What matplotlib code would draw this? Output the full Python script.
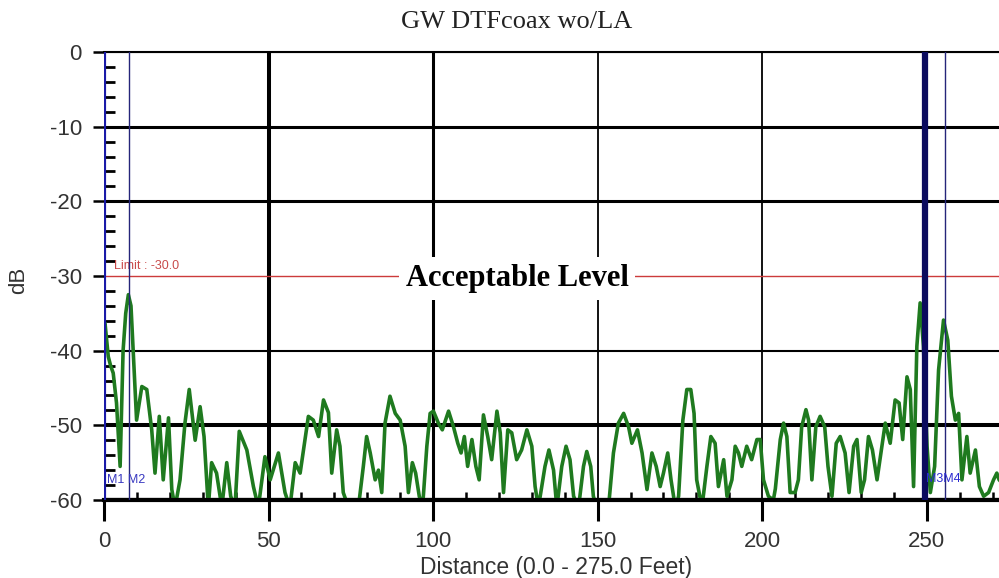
import numpy as np
import matplotlib
matplotlib.use('Agg')
import matplotlib.pyplot as plt

plt.rcParams['axes.unicode_minus'] = False

# trace (feet, dB); -61 means the trace drops below the floor
dist = [0.0, 0.3, 1.3, 2.0, 2.8, 3.8, 4.9, 5.8, 6.6, 7.4, 8.2, 8.9, 9.9, 11.5, 13.0,
        14.5, 15.5, 16.8, 18.0, 19.6, 20.6, 21.6, 23.1, 24.6, 25.9, 27.7, 29.2, 30.4,
        31.7, 32.7, 34.2, 35.8, 37.3, 38.5, 39.8, 41.1, 43.4, 45.4, 46.9, 48.9, 50.5,
        53.0, 55.0, 56.5, 58.1, 59.6, 62.1, 63.6, 65.2, 66.7, 68.2, 69.2, 70.7, 71.7,
        72.7, 74.3, 77.3, 78.8, 79.8, 80.9, 82.4, 83.4, 84.4, 85.4, 86.9, 88.5, 90.0,
        91.5, 92.5, 93.7, 94.7, 95.8, 96.8, 98.1, 99.1, 100.1, 101.6, 102.8, 104.7,
        106.2, 107.5, 108.5, 109.5, 110.5, 111.8, 113.0, 114.0, 115.3, 116.6, 117.8,
        119.4, 120.4, 121.4, 122.7, 123.9, 125.4, 126.9, 128.5, 130.0, 131.0, 132.0,
        134.0, 135.2, 136.6, 137.6, 139.1, 140.4, 141.6, 142.7, 144.2, 145.7, 146.7,
        147.9, 148.7, 149.7, 153.3, 154.8, 156.3, 157.9, 159.4, 160.4, 162.1, 163.5,
        165.0, 166.5, 167.8, 169.0, 170.0, 171.3, 172.3, 173.6, 174.6, 175.9, 177.1,
        178.3, 179.3, 180.1, 181.7, 183.2, 184.4, 185.7, 186.7, 188.3, 189.3, 190.8,
        191.8, 192.8, 193.8, 195.3, 196.8, 198.4, 199.4, 200.4, 201.9, 203.4, 204.0,
        205.5, 206.5, 207.5, 208.5, 210.0, 211.0, 212.0, 213.3, 214.1, 215.1, 216.3,
        217.6, 219.0, 220.0, 221.2, 222.5, 223.7, 225.2, 226.4, 227.8, 228.8, 230.1,
        231.1, 232.3, 233.5, 234.9, 236.2, 237.4, 238.9, 240.4, 241.6, 242.7, 244.0,
        245.0, 246.0, 247.0, 248.0, 249.0, 250.1, 251.1, 252.4, 253.6, 255.1, 256.4,
        257.5, 258.7, 259.7, 260.7, 262.2, 263.2, 264.8, 266.0, 267.3, 268.8, 270.3,
        271.3, 272.0, 273.5, 275.0]
level = [-36.5, -36.3, -40.8, -42.0, -43.0, -47.0, -55.5, -40.0, -35.0, -32.5, -34.0,
         -40.3, -49.3, -44.8, -45.2, -50.6, -56.4, -48.8, -57.3, -49.0, -58.6, -61,
         -57.3, -49.7, -45.2, -52.0, -47.5, -51.5, -61, -55.0, -56.4, -61, -55.0, -59.5,
         -61, -50.8, -53.3, -58.2, -61, -54.2, -57.3, -53.7, -59.0, -61, -55.0, -56.4,
         -48.8, -49.3, -51.5, -46.6, -48.3, -56.4, -50.6, -52.8, -59.0, -61, -61, -55.5,
         -51.5, -53.7, -57.3, -56.0, -59.0, -49.7, -46.1, -48.4, -49.3, -52.8, -59.0,
         -55.0, -56.4, -59.5, -61, -52.8, -48.4, -48.1, -49.7, -50.6, -48.1, -50.2,
         -52.4, -53.7, -51.5, -55.5, -51.9, -55.5, -57.3, -48.6, -51.5, -54.6, -48.1,
         -51.0, -59.0, -50.6, -51.0, -54.6, -53.3, -50.6, -52.8, -58.2, -61, -55.5,
         -53.3, -56.0, -61, -55.5, -52.8, -54.6, -59.5, -61, -55.5, -53.5, -55.5,
         -59.5, -61, -61, -53.7, -49.7, -48.4, -50.2, -52.4, -50.6, -53.7, -58.6,
         -53.7, -55.5, -58.2, -56.4, -53.7, -57.3, -61, -59.5, -49.3, -45.2, -45.2,
         -48.4, -57.3, -61, -55.5, -51.5, -52.4, -58.2, -54.6, -59.5, -57.3, -52.8,
         -53.7, -55.5, -52.8, -54.6, -51.9, -51.9, -57.3, -59.5, -60.0, -58.5, -51.9,
         -49.7, -51.5, -59.0, -59.0, -57.3, -50.2, -47.9, -49.3, -57.3, -50.2, -48.8,
         -50.2, -55.5, -59.5, -52.4, -51.5, -53.7, -59.0, -52.8, -51.9, -59.0, -57.3,
         -51.5, -53.3, -57.3, -53.3, -49.7, -52.4, -46.6, -47.0, -51.9, -43.5, -45.2,
         -58.2, -39.4, -33.6, -39.4, -52.8, -59.0, -55.5, -42.6, -35.9, -38.6, -46.1,
         -49.3, -48.4, -57.3, -51.5, -56.4, -53.3, -58.2, -59.5, -59.0, -57.3, -56.4,
         -57.3, -58.0, -59.0]

x_ticks = [0, 50, 100, 150, 200, 250]
y_ticks = [0, -10, -20, -30, -40, -50, -60]
markers = [0.0, 7.5, 249.5, 255.5]
limit = -30.0

# line widths of the black grid, as seen in the picture
vgrid = {50: 2.9, 100: 2.2, 150: 1.3, 200: 1.3}
hgrid = {0: 1.5, -10: 2.2, -20: 2.2, -40: 1.5, -50: 2.9, -60: 3.0}

fig = plt.figure(figsize=(9.99, 5.78), dpi=100)
ax = fig.add_axes([104 / 999, 78 / 578, 905 / 999, 448 / 578])

for xv, lw in vgrid.items():
    ax.axvline(xv, color='black', lw=lw, zorder=1)
for yv, lw in hgrid.items():
    ax.axhline(yv, color='black', lw=lw, zorder=1)

ax.axhline(limit, color='#cc3b3b', lw=1.0, zorder=1)
ax.text(3.0, limit + 0.5, 'Limit : -30.0', color='#c84a4a', fontsize=9,
        family='Liberation Sans', va='bottom', zorder=3)

ax.plot(dist, level, color='#1f7a1f', lw=2.6, zorder=2)

# distance markers
ax.axvline(markers[0], color='#1a1aa8', lw=3.0, zorder=4)
ax.axvline(markers[1], color='#25257a', lw=1.0, zorder=4)
ax.axvline(markers[2], color='#0b0b5e', lw=4.5, zorder=4)
ax.axvline(markers[3], color='#25257a', lw=1.0, zorder=4)
ax.text(markers[0] + 0.8, -57.3, 'M1 M2', color='#3838c0', fontsize=9,
        family='Liberation Sans', va='center', zorder=5)
ax.text(markers[2] + 0.3, -57.2, 'M3M4', color='#2a2ad0', fontsize=9,
        family='Liberation Sans', va='center', zorder=5)

ax.text(125.5, -30.3, 'Acceptable Level', family='Liberation Serif', fontweight='bold',
        fontsize=22, ha='center', va='center', zorder=6,
        bbox=dict(facecolor='white', edgecolor='none', pad=5))

ax.set_xlim(0, 275)
ax.set_ylim(-60, 0)
ax.set_xticks(x_ticks)
ax.set_yticks(y_ticks)
ax.set_xticks(np.arange(10, 275, 10), minor=True)
ax.set_yticks(np.arange(-58, 0, 2), minor=True)
ax.tick_params(axis='x', which='major', direction='out', length=15, width=2.2,
               labelsize=16, labelcolor='#333333', pad=7)
ax.tick_params(axis='y', which='major', direction='out', length=8, width=1.8,
               labelsize=16, labelcolor='#333333', pad=8)
ax.tick_params(axis='x', which='minor', direction='in', length=6, width=1.8)
ax.tick_params(axis='y', which='minor', direction='in', length=8, width=2.0)
for lab in ax.get_xticklabels() + ax.get_yticklabels():
    lab.set_family('Liberation Sans')

for side in ['left', 'right']:
    ax.spines[side].set_visible(False)
ax.spines['top'].set_linewidth(1.5)
ax.spines['bottom'].set_linewidth(3.0)

ax.set_ylabel('dB', family='Liberation Sans', fontsize=16, color='#333333')
ax.yaxis.set_label_coords(-0.083, 0.49)
ax.set_xlabel('Distance (0.0 - 275.0 Feet)', family='Liberation Sans', fontsize=16.5,
              color='#333333', labelpad=3)

fig.text(517 / 999, 1 - 22 / 578, 'GW DTFcoax wo/LA', family='Liberation Serif',
         fontsize=19, ha='center', va='center', color='#222222')

plt.savefig('out.png', dpi=100)
